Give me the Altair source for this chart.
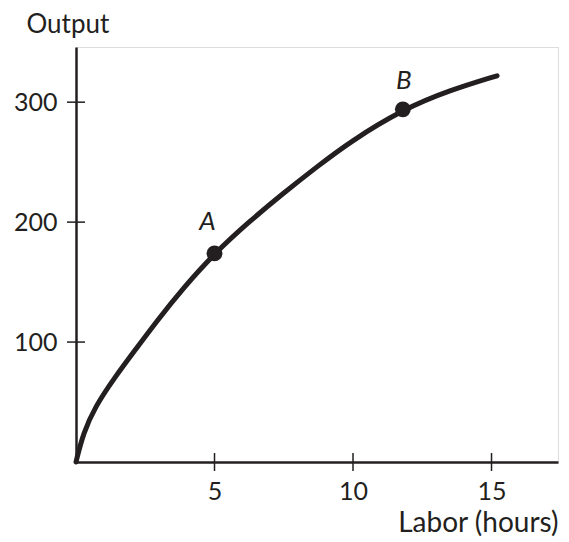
import altair as alt
import pandas as pd

# Curve
labor = [0, 0.26, 0.69, 1.35, 2.19, 2.9, 3.87, 5.0, 6.28, 7.48, 8.69, 9.89, 11.8, 13.5, 15.2]
output = [0, 24, 46, 69, 95, 117, 145, 174, 201, 224, 246, 267, 294, 310, 322]

# Highlighted points
pt_names = ["A", "B"]
pt_labor = [5.0, 11.8]
pt_output = [174, 294]

x_ticks = [5, 10, 15]
y_ticks = [100, 200, 300]

X_MAX = 17.4
Y_MAX = 346
W, H = 482, 415
INK = "#231f20"
FONT = "Lato"

curve = pd.DataFrame({"labor": labor, "output": output})
pts = pd.DataFrame({"name": pt_names, "labor": pt_labor, "output": pt_output})
xt = pd.DataFrame({"v": x_ticks})
yt = pd.DataFrame({"v": y_ticks})

xs = alt.Scale(domain=[0, X_MAX], nice=False, zero=False)
ys = alt.Scale(domain=[0, Y_MAX], nice=False, zero=False)

x_axis = alt.Axis(
    values=x_ticks, ticks=False, grid=False, domainColor=INK, domainWidth=2.5,
    labelFont=FONT, labelFontSize=25, labelColor=INK, labelPadding=17,
    title="Labor (hours)", titleFont=FONT, titleFontSize=28, titleFontWeight="normal",
    titleColor=INK, titleX=482, titleY=69, titleAlign="right", titleBaseline="alphabetic",
    titleAngle=0,
)
y_axis = alt.Axis(
    values=y_ticks, ticks=False, grid=False, domainColor=INK, domainWidth=2.5,
    labelFont=FONT, labelFontSize=25, labelColor=INK, labelPadding=19,
    title="Output", titleFont=FONT, titleFontSize=26, titleFontWeight="normal",
    titleColor=INK, titleX=-50, titleY=-36, titleAlign="left", titleBaseline="top",
    titleAngle=0,
)

line = alt.Chart(curve).mark_line(
    interpolate="basis", strokeWidth=5, color=INK, strokeCap="round"
).encode(
    x=alt.X("labor:Q", scale=xs, axis=x_axis),
    y=alt.Y("output:Q", scale=ys, axis=y_axis),
)

dots = alt.Chart(pts).mark_point(
    shape="circle", filled=True, size=250, color=INK, opacity=1
).encode(
    x=alt.X("labor:Q", scale=xs),
    y=alt.Y("output:Q", scale=ys),
)

label_a = alt.Chart(pts).transform_filter(alt.datum.name == "A").mark_text(
    font=FONT, fontSize=26, fontStyle="italic", color=INK, dx=-7, dy=-31
).encode(
    x=alt.X("labor:Q", scale=xs),
    y=alt.Y("output:Q", scale=ys),
    text="name:N",
)
label_b = alt.Chart(pts).transform_filter(alt.datum.name == "B").mark_text(
    font=FONT, fontSize=26, fontStyle="italic", color=INK, dx=1, dy=-28
).encode(
    x=alt.X("labor:Q", scale=xs),
    y=alt.Y("output:Q", scale=ys),
    text="name:N",
)

xticks = alt.Chart(xt).mark_rule(color=INK, strokeWidth=1.5).encode(
    x=alt.X("v:Q", scale=xs),
    y=alt.value(H - 9),
    y2=alt.value(H + 9),
)
yticks = alt.Chart(yt).mark_rule(color=INK, strokeWidth=1.5).encode(
    y=alt.Y("v:Q", scale=ys),
    x=alt.value(-9),
    x2=alt.value(9),
)

chart = alt.layer(line, xticks, yticks, dots, label_a, label_b).properties(
    width=W, height=H,
    autosize=alt.AutoSizeParams(type="none"),
    padding={"left": 68, "top": 39, "right": 3, "bottom": 78},
).configure_view(stroke=None).configure(background="white")

chart.save("out.html", embed_options={"renderer": "svg", "actions": False})
